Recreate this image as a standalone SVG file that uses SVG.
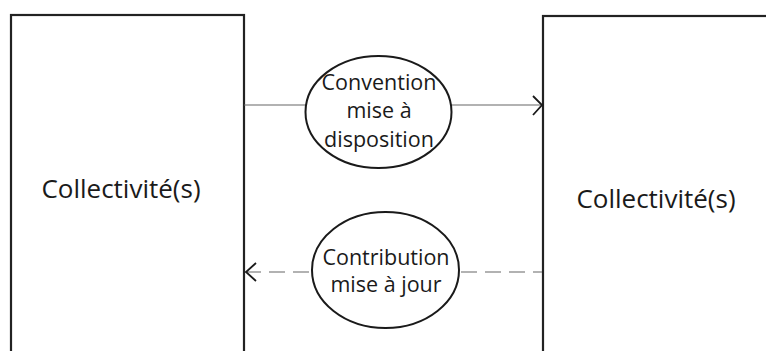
<svg xmlns="http://www.w3.org/2000/svg" width="766" height="351" viewBox="0 0 766 351">
<style>
.box{fill:#fff;stroke:#222;stroke-width:2.2}
.ell{fill:#fff;stroke:#1a1a1a;stroke-width:2}
.big{font-family:"Open Sans","Liberation Sans",sans-serif;font-size:26px;fill:#1a1a1a;text-anchor:middle}
.lbl{font-family:"Open Sans","Liberation Sans",sans-serif;font-size:21.5px;fill:#1a1a1a;text-anchor:middle}
.ln{fill:none;stroke:#666;stroke-width:1.2}
.head{fill:none;stroke:#1a1a1a;stroke-width:1.8}
</style>
<rect width="766" height="351" fill="#fff"/>
<g id="left">
<rect class="box" x="11" y="15" width="233" height="350"/>
<text class="big" x="121" y="198">Collectivité(s)</text>
</g>
<g id="right">
<rect class="box" x="543" y="16" width="240" height="350"/>
<text class="big" x="656" y="208">Collectivité(s)</text>
</g>
<g id="connectors">
<line class="ln" x1="244" y1="105" x2="542" y2="105"/>
<polyline class="head" points="533,96 542,105 533,115"/>
<line class="ln" x1="245" y1="272" x2="542" y2="272" stroke-dasharray="16,8"/>
<polyline class="head" points="256,263 246,272 256,281"/>
</g>
<g id="convention">
<ellipse class="ell" cx="378.5" cy="112" rx="73" ry="56"/>
<text class="lbl" x="379" y="90">Convention</text>
<text class="lbl" x="379" y="118">mise à</text>
<text class="lbl" x="379" y="147">disposition</text>
</g>
<g id="contribution">
<ellipse class="ell" cx="385.5" cy="270" rx="73.5" ry="58"/>
<text class="lbl" x="386" y="265">Contribution</text>
<text class="lbl" x="386" y="292">mise à jour</text>
</g>
</svg>
